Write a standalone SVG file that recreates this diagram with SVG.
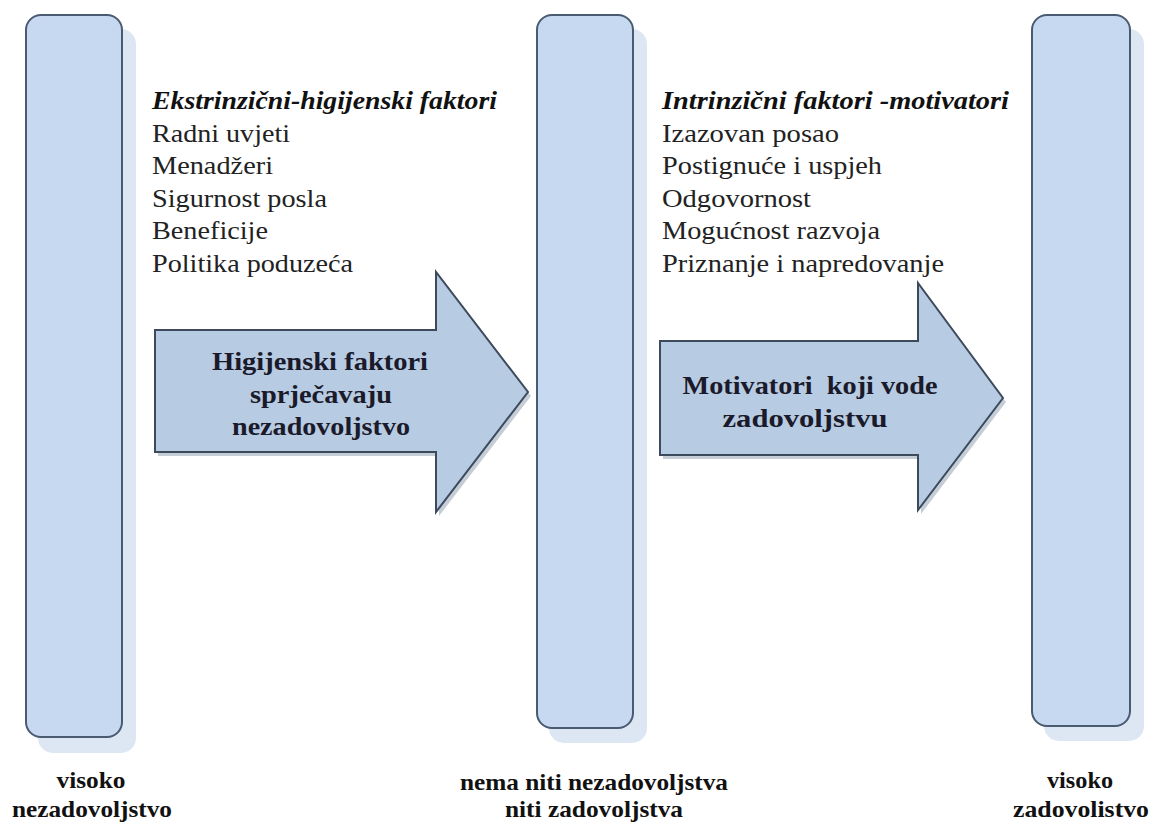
<svg xmlns="http://www.w3.org/2000/svg" width="1150" height="823" viewBox="0 0 1150 823">
<style>
.bar{fill:#c6d9f1;stroke:#4a5a70;stroke-width:2}
.sh{fill:#dde7f3}
.arr{fill:#b7cbe3;stroke:#3c4a5c;stroke-width:2}
.ash{fill:#8c9cb0;opacity:0.5}
text{font-family:"Liberation Serif","Times New Roman","DejaVu Serif",serif}
.t{font-size:25px;fill:#222}
.h{font-weight:bold;font-style:italic;fill:#111}
.a{font-size:26px;font-weight:bold;fill:#1a1a2a;text-anchor:middle}
.b{font-size:24px;font-weight:bold;fill:#111;text-anchor:middle}
</style>
<rect width="1150" height="823" fill="#fff"/>
<g id="bar1">
<rect class="sh" x="38" y="29" width="98" height="724" rx="15"/>
<rect class="bar" x="26" y="15" width="96" height="722" rx="15"/>
</g>
<g id="bar2">
<rect class="sh" x="549" y="29" width="98" height="714" rx="15"/>
<rect class="bar" x="537" y="15" width="96" height="713" rx="15"/>
</g>
<g id="bar3">
<rect class="sh" x="1044" y="29" width="100" height="712" rx="15"/>
<rect class="bar" x="1032" y="15" width="98" height="711" rx="15"/>
</g>
<g id="list1">
<text class="t h" x="152" y="109" textLength="345" lengthAdjust="spacingAndGlyphs">Ekstrinzični-higijenski faktori</text>
<text class="t" x="152" y="141.5" textLength="138" lengthAdjust="spacingAndGlyphs">Radni uvjeti</text>
<text class="t" x="152" y="174" textLength="121" lengthAdjust="spacingAndGlyphs">Menadžeri</text>
<text class="t" x="152" y="206.5" textLength="175" lengthAdjust="spacingAndGlyphs">Sigurnost posla</text>
<text class="t" x="152" y="239" textLength="116" lengthAdjust="spacingAndGlyphs">Beneficije</text>
<text class="t" x="152" y="271.5" textLength="201" lengthAdjust="spacingAndGlyphs">Politika poduzeća</text>
</g>
<g id="list2">
<text class="t h" x="662" y="109" textLength="347" lengthAdjust="spacingAndGlyphs">Intrinzični faktori -motivatori</text>
<text class="t" x="662" y="141.5" textLength="177" lengthAdjust="spacingAndGlyphs">Izazovan posao</text>
<text class="t" x="662" y="174" textLength="220" lengthAdjust="spacingAndGlyphs">Postignuće i uspjeh</text>
<text class="t" x="662" y="206.5" textLength="149" lengthAdjust="spacingAndGlyphs">Odgovornost</text>
<text class="t" x="662" y="239" textLength="218" lengthAdjust="spacingAndGlyphs">Mogućnost razvoja</text>
<text class="t" x="662" y="271.5" textLength="282" lengthAdjust="spacingAndGlyphs">Priznanje i napredovanje</text>
</g>
<g id="connectors">
<g id="arrow1">
<polygon class="ash" points="158,334 439,334 439,276 531,396 439,516 439,456 158,456"/>
<polygon class="arr" points="155,330 436,330 436,272 528,392 436,512 436,452 155,452"/>
<text class="a" x="320" y="370" textLength="216" lengthAdjust="spacingAndGlyphs">Higijenski faktori</text>
<text class="a" x="321" y="403" textLength="142" lengthAdjust="spacingAndGlyphs">sprječavaju</text>
<text class="a" x="321" y="435" textLength="178" lengthAdjust="spacingAndGlyphs">nezadovoljstvo</text>
</g>
<g id="arrow2">
<polygon class="ash" points="663,345 921,345 921,287 1006,402 921,514 921,459 663,459"/>
<polygon class="arr" points="660,341 918,341 918,283 1003,398 918,510 918,455 660,455"/>
<text class="a" x="810" y="394" xml:space="preserve" textLength="255" lengthAdjust="spacingAndGlyphs">Motivatori  koji vode</text>
<text class="a" x="805" y="427" textLength="165" lengthAdjust="spacingAndGlyphs">zadovoljstvu</text>
</g>
</g>
<g id="labels">
<text class="b" x="91" y="788" textLength="69" lengthAdjust="spacingAndGlyphs">visoko</text>
<text class="b" x="92" y="817" textLength="160" lengthAdjust="spacingAndGlyphs">nezadovoljstvo</text>
<text class="b" x="594" y="790" textLength="268" lengthAdjust="spacingAndGlyphs">nema niti nezadovoljstva</text>
<text class="b" x="594" y="817" textLength="178" lengthAdjust="spacingAndGlyphs">niti zadovoljstva</text>
<text class="b" x="1080" y="788" textLength="66" lengthAdjust="spacingAndGlyphs">visoko</text>
<text class="b" x="1081" y="817" textLength="136" lengthAdjust="spacingAndGlyphs">zadovolistvo</text>
</g>
</svg>
